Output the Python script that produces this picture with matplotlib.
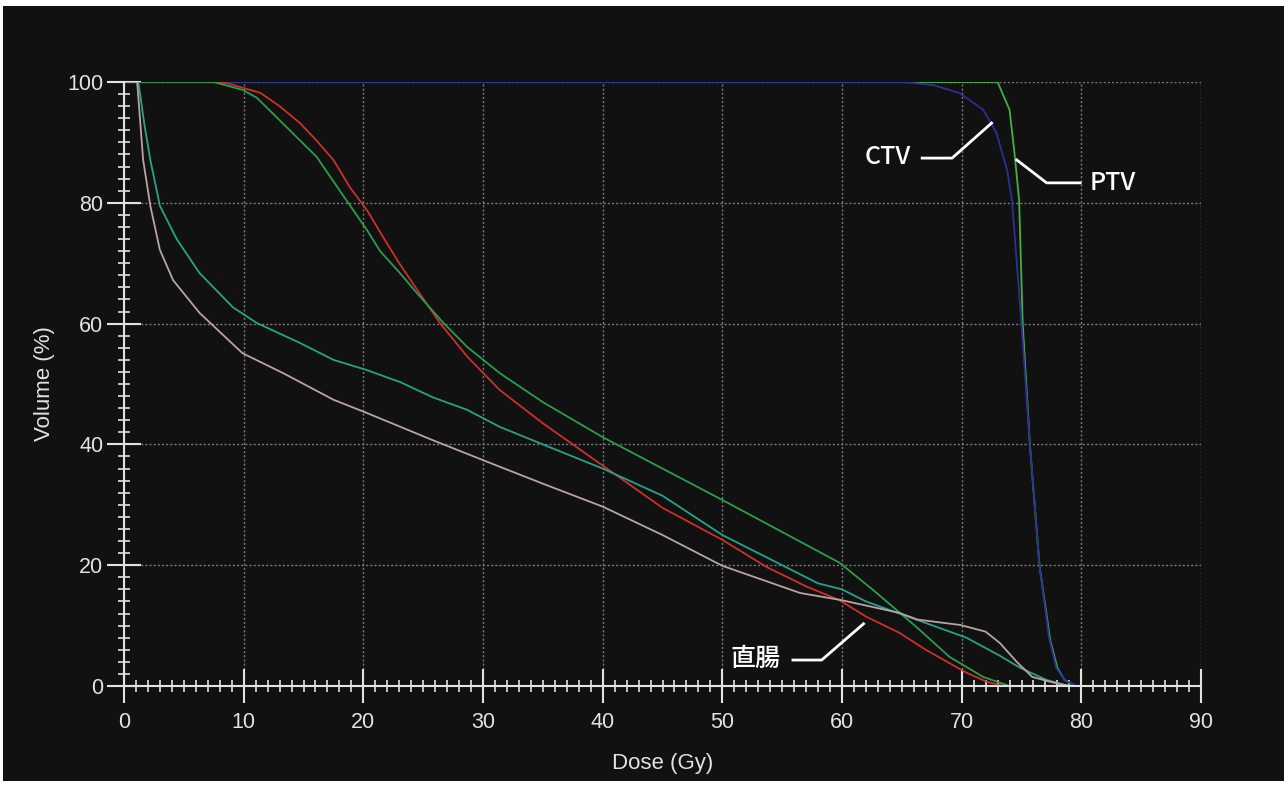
import matplotlib
matplotlib.use("Agg")
import matplotlib.pyplot as plt
from matplotlib.patches import Rectangle
from matplotlib.ticker import MultipleLocator

# dose-volume curves (dose in Gy, volume in %)
rect_dose = [0, 7.5, 8.6, 10, 11.4, 13, 14.7, 16, 17.5, 18.9, 20.3, 21.6, 23, 24.5, 26.4,
             28.7, 31.4, 35, 40, 45, 50, 53.7, 57, 59.8, 62, 64.8, 67, 70.4, 72.1, 73.5]
rect_vol = [100, 100, 99.8, 99, 98.2, 96, 93.2, 90.5, 87.1, 82.5, 78.8, 74.5, 70, 65.6, 60.1,
            54.5, 49, 43.5, 36.5, 29.5, 24.2, 19.7, 16.5, 14.2, 11.5, 8.8, 6, 2.2, 0.7, 0]

green_dose = [0, 7.5, 9.9, 11.1, 13.6, 16.1, 18, 20.3, 21.4, 23, 24.5, 26.7, 28.7, 31.4,
              35, 40, 45, 50, 55, 59.8, 62.6, 66.2, 69, 71.8, 74]
green_vol = [100, 100, 98.7, 97.4, 92.5, 87.6, 82.1, 75.5, 72, 68.5, 65, 60.1, 56.1, 51.8,
             47, 41.2, 36, 30.8, 25.5, 20.4, 15.9, 9.8, 4.8, 1.5, 0]

teal_dose = [0, 1.2, 1.7, 2.2, 3.0, 4.4, 6.3, 9.1, 11.1, 14.7, 17.5, 20.3, 23.1, 25.8, 28.7,
             31.4, 35, 40, 45, 50, 55, 58, 60, 62, 64.8, 67.6, 70.4, 73.2, 74.9, 77.1, 79]
teal_vol = [100, 100, 93, 87.1, 79.5, 74, 68.4, 62.7, 60.1, 56.8, 54, 52.3, 50.3, 47.8, 45.7,
            42.9, 40, 36, 31.5, 25, 20, 17, 16, 14, 12, 10, 8, 5, 3, 1, 0]

gray_dose = [0, 1.1, 1.6, 2.2, 3.0, 4.1, 6.3, 9.9, 13.3, 17.5, 20.3, 25.8, 31.4, 35, 40, 45,
             50, 56.5, 60, 64.8, 66.3, 69.9, 72, 73.2, 74.6, 75.9, 77.6, 79]
gray_vol = [100, 100, 87.1, 79.5, 72.2, 67.2, 61.8, 55.1, 51.8, 47.4, 45.2, 40.7, 36.3, 33.5,
            29.7, 25, 19.9, 15.4, 14.2, 12.1, 11, 10.1, 9, 7.1, 4, 1.5, 0.6, 0]

ptv_dose = [0, 73.0, 74.0, 74.4, 74.8, 75.1, 75.7, 76.5, 77.4, 78.0, 78.6, 79.5]
ptv_vol = [100, 100, 95.4, 88.5, 80.5, 60, 40, 20, 7.6, 3, 1, 0]

ctv_dose = [0, 65, 67.6, 69.8, 71.8, 72.9, 73.8, 74.2, 75.0, 75.7, 76.5, 77.3, 77.9, 78.6, 79.5]
ctv_vol = [100, 100, 99.5, 98.2, 95.4, 91.6, 85.4, 80.5, 60, 40, 20, 8, 3, 1, 0]

bg = "#111111"
fg = "#e2e2e2"

plt.rcParams["font.family"] = ["Liberation Sans", "DejaVu Sans"]

fig = plt.figure(figsize=(12.88, 7.85), dpi=100)
fig.patch.set_facecolor("white")
# dark panel with a thin white edge, as in the screenshot
fig.add_artist(Rectangle((3 / 1288, 4 / 785), 1281 / 1288, 775 / 785,
                         transform=fig.transFigure, facecolor=bg, edgecolor="none", zorder=0))

ax = fig.add_axes([124 / 1288, 1 - 686 / 785, 1077 / 1288, 604 / 785])
ax.set_facecolor(bg)

# draw order matters for which colour shows along the 100 % line
lw = 1.3
ax.plot(ptv_dose, ptv_vol, color="#44ad4c", lw=lw)
ax.plot(ctv_dose, ctv_vol, color="#2c3190", lw=lw)
ax.plot(rect_dose, rect_vol, color="#cc302c", lw=lw)
ax.plot(green_dose, green_vol, color="#2c9c4e", lw=lw)
ax.plot(teal_dose, teal_vol, color="#26a386", lw=lw)
ax.plot(gray_dose, gray_vol, color="#b9a3a3", lw=lw)

ax.set_xlim(0, 90)
ax.set_ylim(0, 100)
ax.xaxis.set_major_locator(MultipleLocator(10))
ax.xaxis.set_minor_locator(MultipleLocator(1))
ax.yaxis.set_major_locator(MultipleLocator(20))
ax.yaxis.set_minor_locator(MultipleLocator(2))

ax.grid(True, which="major", color="#7a7a7a", lw=1.0, linestyle=(0, (1.5, 1.5)))
for s in ["top", "right"]:
    ax.spines[s].set_visible(False)
for s in ["left", "bottom"]:
    ax.spines[s].set_color(fg)
    ax.spines[s].set_linewidth(1.5)

ax.tick_params(which="major", direction="inout", length=24, width=1.5, color=fg,
               labelcolor=fg, labelsize=15.5, pad=3)
ax.tick_params(which="minor", direction="inout", length=8.5, width=1.2, color=fg)
ax.tick_params(axis="x", which="major", pad=7)

ax.set_xlabel("Dose (Gy)", color=fg, fontsize=16, labelpad=14)
ax.set_ylabel("Volume (%)", color=fg, fontsize=16, labelpad=9)

# labels with leader lines
lab = dict(color="white", fontsize=18, family=["Noto Sans CJK JP", "DejaVu Sans"],
           fontweight="medium", va="center", ha="center")
ax.text(63.8, 87.6, "CTV", **lab)
ax.plot([66.7, 69.2, 72.5], [87.4, 87.4, 93.2], color="white", lw=2)
ax.text(82.6, 83.3, "PTV", **lab)
ax.plot([74.6, 77.1, 79.9], [87.1, 83.3, 83.3], color="white", lw=2)
ax.text(52.8, 4.5, "直腸", **lab)
ax.plot([55.9, 58.3, 61.8], [4.3, 4.3, 10.3], color="white", lw=2)

fig.savefig("out.png", dpi=100, facecolor=fig.get_facecolor())
